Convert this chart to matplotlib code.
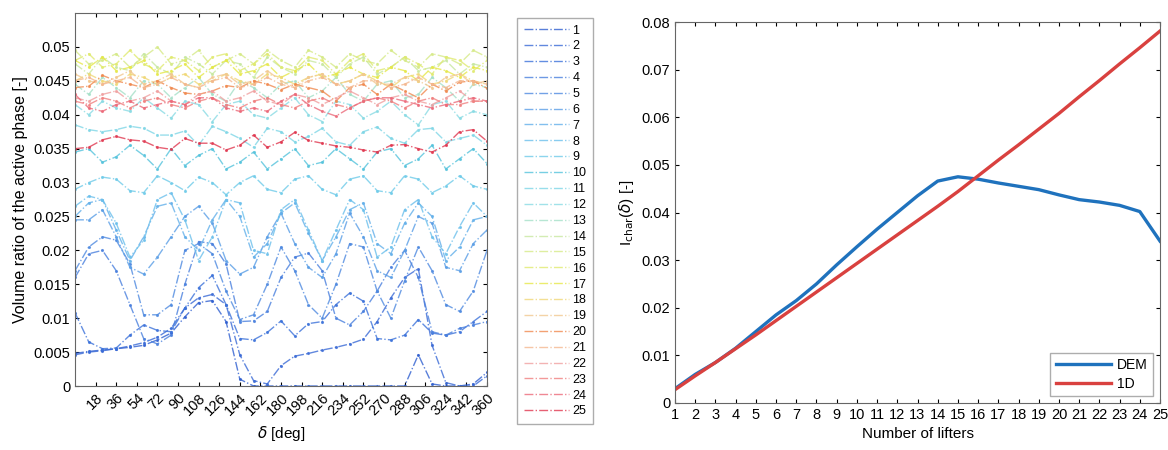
import numpy as np
import matplotlib.pyplot as plt
from matplotlib.lines import Line2D

plt.rcParams['font.family'] = ['Liberation Sans', 'DejaVu Sans']
plt.rcParams['mathtext.fontset'] = 'dejavusans'

# ---- left panel: volume ratio vs. angle, one curve per number of lifters (values x 1e-3) ----
angle_deg = np.arange(0, 361, 12)

ratio_e3 = [
    # 1
    [4.8, 5.1, 5.3, 5.5, 5.7, 6.0, 6.8, 7.8, 10.2, 12.3, 12.6, 9.5, 1.0, 0, 0, 0,
     0, 0, 0, 0, 0, 0, 0, 0, 0, 4.6, 0.3, 0, 0, 0.3, 2.0],
    # 2
    [4.6, 5.0, 5.2, 5.5, 5.9, 6.4, 7.2, 8.5, 11.5, 13.0, 13.5, 12.0, 4.6, 0.8, 0.3, 3.0,
     4.4, 4.8, 5.3, 5.7, 6.2, 6.9, 9.5, 13.0, 16.0, 17.3, 6.0, 0.5, 0, 0, 1.5],
    # 3
    [10.8, 6.5, 5.5, 5.6, 7.5, 9.0, 8.2, 8.0, 11.5, 14.5, 16.3, 12.0, 7.0, 6.8, 7.9, 9.6,
     7.4, 9.2, 9.5, 12.0, 13.7, 12.5, 7.0, 6.8, 7.5, 9.8, 7.8, 7.5, 8.0, 9.5, 11.0],
    # 4
    [16.0, 19.5, 20.0, 17.0, 12.0, 7.0, 6.2, 7.5, 15.0, 21.3, 21.0, 18.0, 9.5, 9.6, 11.0, 16.0,
     19.0, 19.6, 17.0, 10.0, 9.0, 11.0, 14.0, 17.5, 20.0, 16.0, 8.0, 7.5, 8.5, 9.0, 9.5],
    # 5
    [17.0, 20.5, 22.0, 21.5, 18.0, 10.5, 10.5, 12.0, 20.0, 21.0, 19.5, 14.0, 9.8, 10.5, 15.0, 20.5,
     17.0, 12.0, 10.0, 15.0, 21.0, 20.5, 14.0, 10.0, 15.5, 20.5, 17.0, 12.0, 11.0, 14.0, 20.0],
    # 6
    [24.5, 24.5, 26.0, 22.0, 17.5, 16.5, 19.0, 22.0, 25.0, 26.5, 24.0, 18.5, 16.5, 17.5, 22.0, 25.5,
     21.0, 17.5, 16.0, 19.5, 25.5, 22.0, 17.0, 16.0, 20.0, 25.0, 24.0, 17.5, 17.0, 21.0, 23.0],
    # 7
    [25.0, 27.0, 27.5, 23.0, 18.5, 22.0, 26.5, 27.0, 22.0, 20.0, 24.5, 27.5, 25.0, 19.0, 21.0, 25.5,
     27.0, 22.5, 18.5, 22.0, 26.0, 27.0, 21.0, 19.5, 24.0, 27.0, 25.0, 18.5, 20.5, 24.5, 25.0],
    # 8
    [26.5, 28.0, 27.5, 24.0, 19.0, 21.5, 27.5, 28.5, 24.5, 18.5, 22.0, 27.5, 27.0, 20.0, 19.5, 26.0,
     27.5, 23.0, 18.5, 23.0, 27.5, 26.0, 19.0, 20.5, 26.0, 27.5, 22.0, 19.5, 23.5, 27.0, 25.0],
    # 9
    [29.0, 30.0, 30.8, 30.5, 28.8, 28.5, 31.0, 30.0, 28.8, 30.8, 30.0, 28.2, 30.0, 31.0, 29.0, 28.5,
     30.5, 31.0, 29.0, 28.2, 30.5, 31.0, 28.8, 28.5, 31.0, 30.5, 28.5, 29.5, 31.0, 29.5, 29.0],
    # 10
    [34.5, 35.0, 33.0, 33.8, 35.5, 34.0, 32.0, 35.0, 32.5, 34.0, 35.0, 32.0, 33.0, 34.5, 32.0, 33.5,
     35.0, 32.5, 33.0, 35.0, 33.5, 32.0, 34.5, 35.0, 32.5, 33.5, 35.5, 32.0, 33.5, 35.0, 32.8],
    # 11
    [38.5, 37.8, 37.5, 37.8, 38.3, 38.0, 37.0, 37.0, 37.6, 35.5, 38.3, 37.5, 36.5, 35.2, 38.0, 37.5,
     36.0, 36.8, 38.0, 36.0, 35.5, 37.5, 38.2, 36.5, 35.8, 37.8, 38.0, 36.0, 36.5, 37.0, 35.5],
    # 12
    [41.5, 40.0, 42.0, 41.0, 40.5, 42.5, 41.0, 39.5, 42.0, 41.5, 39.0, 41.5, 42.0, 40.0, 39.5, 41.0,
     42.5, 40.0, 39.0, 42.0, 41.5, 39.5, 40.5, 42.0, 40.0, 38.5, 41.5, 42.0, 39.5, 40.5, 40.0],
    # 13
    [44.5, 43.0, 45.5, 44.0, 42.5, 45.0, 44.5, 42.5, 44.0, 45.5, 43.0, 42.0, 45.0, 44.0, 42.5, 44.5,
     45.0, 42.5, 43.5, 45.5, 43.0, 42.0, 44.5, 45.0, 42.5, 43.0, 45.5, 44.0, 42.0, 44.5, 44.0],
    # 14
    [47.5, 46.0, 48.5, 47.0, 46.5, 49.0, 47.0, 46.0, 48.5, 47.5, 46.0, 48.0, 47.5, 45.5, 48.5, 47.0,
     46.0, 48.0, 47.5, 45.5, 47.5, 48.5, 46.0, 47.0, 48.5, 46.5, 47.0, 48.0, 46.0, 47.5, 47.0],
    # 15
    [49.5, 47.5, 48.0, 49.0, 47.0, 48.5, 50.0, 47.5, 48.0, 49.5, 47.0, 48.0, 49.0, 47.5, 49.5, 48.0,
     47.0, 49.5, 48.5, 47.0, 49.0, 48.0, 47.5, 49.5, 48.0, 47.0, 49.0, 48.5, 47.5, 49.5, 48.5],
    # 16
    [48.0, 49.0, 47.0, 47.5, 49.5, 47.5, 46.5, 48.5, 48.0, 46.5, 48.5, 49.0, 46.5, 47.5, 49.0, 47.0,
     46.5, 48.5, 48.0, 46.0, 48.0, 49.0, 46.5, 47.0, 48.5, 47.5, 46.0, 48.5, 48.0, 46.5, 48.0],
    # 17
    [48.0, 47.0, 48.5, 46.5, 47.0, 48.0, 46.0, 46.5, 47.5, 45.5, 47.0, 48.0, 46.0, 46.5, 47.5, 45.5,
     46.5, 47.5, 45.5, 46.0, 47.0, 46.0, 45.5, 47.0, 46.5, 45.0, 47.0, 46.5, 45.5, 47.0, 46.5],
    # 18
    [45.0, 46.0, 45.0, 44.5, 46.0, 45.5, 44.5, 45.5, 46.0, 44.5, 45.0, 46.0, 45.0, 44.5, 46.0, 45.5,
     44.5, 45.5, 46.0, 44.5, 45.0, 46.0, 45.0, 44.0, 45.5, 46.0, 44.5, 45.0, 46.0, 45.0, 44.5],
    # 19
    [46.0, 45.0, 44.5, 45.5, 46.5, 44.5, 45.0, 46.0, 44.5, 44.0, 45.5, 46.0, 44.5, 45.0, 46.5, 45.0,
     44.0, 45.5, 46.0, 44.5, 45.0, 46.0, 44.5, 44.5, 45.5, 45.0, 44.0, 45.5, 46.0, 44.5, 45.0],
    # 20
    [44.0, 44.2, 45.8, 45.0, 44.5, 44.0, 45.0, 44.0, 43.2, 43.0, 43.5, 44.3, 44.0, 45.0, 44.5, 43.7,
     44.5, 44.0, 43.5, 42.0, 44.0, 44.5, 43.0, 44.5, 43.5, 42.5, 44.5, 43.5, 44.8, 45.0, 43.9],
    # 21
    [45.0, 45.5, 44.5, 45.0, 45.5, 44.0, 44.5, 45.5, 44.5, 44.0, 45.0, 45.5, 44.0, 44.5, 45.5, 44.5,
     44.0, 45.0, 45.5, 44.5, 44.0, 45.0, 45.0, 44.0, 44.5, 45.5, 44.5, 44.0, 45.0, 45.0, 44.5],
    # 22
    [42.5, 42.0, 43.0, 43.5, 42.0, 42.5, 43.5, 42.0, 41.5, 43.0, 43.5, 42.0, 42.5, 43.5, 42.0, 41.5,
     43.0, 42.5, 41.5, 42.5, 43.5, 42.5, 41.5, 42.5, 43.0, 42.0, 41.5, 42.5, 43.5, 42.0, 42.0],
    # 23
    [42.0, 41.5, 42.5, 42.0, 41.0, 42.0, 42.5, 41.5, 41.0, 42.0, 42.5, 41.5, 41.0, 42.0, 42.5, 41.5,
     41.0, 42.0, 42.5, 41.5, 41.0, 42.0, 42.5, 42.0, 41.0, 42.0, 42.5, 41.5, 41.5, 42.0, 42.0],
    # 24
    [43.0, 41.0, 40.5, 41.5, 42.0, 41.0, 41.5, 42.0, 41.5, 42.5, 42.5, 41.0, 40.5, 41.0, 40.5, 42.0,
     43.0, 41.5, 40.5, 39.8, 41.0, 42.0, 42.5, 42.5, 42.0, 41.5, 41.0, 41.5, 42.0, 42.5, 42.0],
    # 25
    [35.0, 35.2, 36.3, 36.8, 36.3, 36.1, 35.2, 34.9, 36.5, 35.8, 35.8, 34.8, 35.5, 37.0, 35.2, 36.0,
     37.4, 36.2, 35.8, 35.4, 35.2, 34.8, 34.5, 35.5, 35.6, 35.0, 34.5, 35.5, 37.5, 37.8, 36.1],
]

series_colors = [
    '#2f5fd0', '#3a6ad6', '#3c72da', '#4a80de', '#4f8ae0',
    '#5a9ee6', '#63b0ea', '#6cc0ec', '#6fcbe9', '#55c3dc',
    '#7fd6e6', '#8adbe4', '#a5e0c8', '#c8e8a0', '#d6ea88',
    '#e0ea70', '#e6e84a', '#f0d878', '#f2c890', '#f08a50',
    '#f4b890', '#f0a0a0', '#f08080', '#ec6a7a', '#e03850',
]

# ---- right panel: characteristic value vs. number of lifters ----
n_lifters = np.arange(1, 26)
dem = [0.0030, 0.0060, 0.0085, 0.0115, 0.0150, 0.0185, 0.0215, 0.0250, 0.0290, 0.0328,
       0.0365, 0.0400, 0.0435, 0.0466, 0.0475, 0.0470, 0.0462, 0.0455, 0.0448, 0.0437,
       0.0427, 0.0422, 0.0415, 0.0402, 0.0340]
one_d = [0.0028, 0.0057, 0.0085, 0.0114, 0.0143, 0.0173, 0.0203, 0.0233, 0.0263, 0.0293,
         0.0323, 0.0353, 0.0383, 0.0413, 0.0444, 0.0477, 0.0510, 0.0542, 0.0575, 0.0608,
         0.0643, 0.0677, 0.0712, 0.0746, 0.0781]

fig = plt.figure(figsize=(11.68, 4.5), dpi=100)
ax1 = fig.add_axes([75 / 1168, 1 - 386 / 450, 412 / 1168, 373 / 450])
ax2 = fig.add_axes([675 / 1168, 1 - 403 / 450, 485 / 1168, 381 / 450])

handles = []
for i, vals in enumerate(ratio_e3):
    col = series_colors[i]
    ax1.plot(angle_deg, np.array(vals) / 1000, ls='-.', lw=1.0, color=col, alpha=0.8,
             marker='.', ms=2.5)
    handles.append(Line2D([], [], ls='-.', lw=1.0, color=col, alpha=0.8))

ax1.set_xlim(0, 360)
ax1.set_ylim(0, 0.055)
ax1.set_xticks(np.arange(18, 361, 18))
ax1.set_xticklabels([str(t) for t in range(18, 361, 18)], rotation=45, ha='right',
                    rotation_mode='anchor')
ax1.set_yticks(np.arange(0, 0.0501, 0.005))
ax1.set_yticklabels(['0', '0.005', '0.01', '0.015', '0.02', '0.025', '0.03', '0.035',
                     '0.04', '0.045', '0.05'])
ax1.set_xlabel(r'$\delta$ [deg]', fontsize=11)
ax1.set_ylabel('Volume ratio of the active phase [-]', fontsize=11.5)

fig.legend(handles, [str(k) for k in range(1, 26)], loc='upper left',
           bbox_to_anchor=(511 / 1168, 1 - 12 / 450), fontsize=9, handlelength=3.6,
           labelspacing=0.31, frameon=True, fancybox=False, edgecolor='#999999',
           borderpad=0.5, handletextpad=0.3)

ax2.plot(n_lifters, dem, color='#1f72bd', lw=2.4, label='DEM')
ax2.plot(n_lifters, one_d, color='#d9413f', lw=2.4, label='1D')
ax2.set_xlim(1, 25)
ax2.set_ylim(0, 0.08)
ax2.set_xticks(n_lifters)
ax2.set_yticks(np.arange(0, 0.0801, 0.01))
ax2.set_yticklabels(['0', '0.01', '0.02', '0.03', '0.04', '0.05', '0.06', '0.07', '0.08'])
ax2.set_xlabel('Number of lifters', fontsize=11)
ax2.set_ylabel(r'I$_{\mathrm{char}}$($\delta$) [-]', fontsize=11)
ax2.legend(loc='lower right', fontsize=10, fancybox=False, edgecolor='#999999',
           handlelength=4.0, borderpad=0.4, handletextpad=0.4, labelspacing=0.3)

for ax in (ax1, ax2):
    ax.tick_params(direction='in', top=True, right=True, length=3, labelsize=10.5)
    for sp in ax.spines.values():
        sp.set_color('#666666')
        sp.set_linewidth(0.8)

fig.savefig('out.png', dpi=100)
